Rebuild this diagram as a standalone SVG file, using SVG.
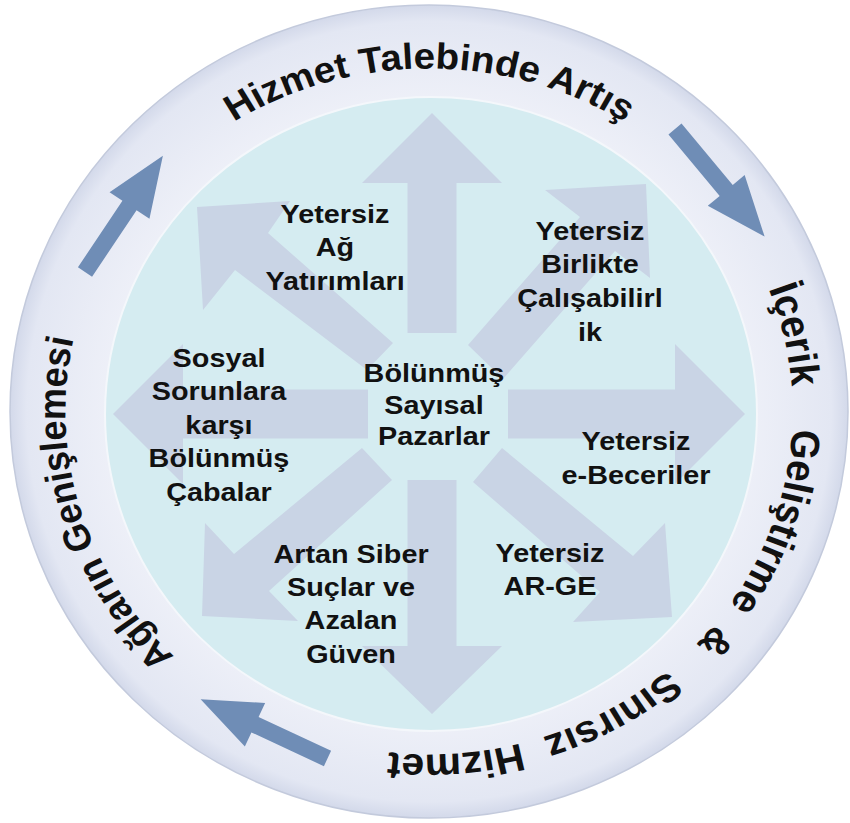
<svg xmlns="http://www.w3.org/2000/svg" xmlns:xlink="http://www.w3.org/1999/xlink" width="850" height="823" viewBox="0 0 850 823">
<defs>
<style>
.lbl{font-family:"Liberation Sans",Arial,sans-serif;font-weight:bold;font-size:25.5px;fill:#111;text-anchor:middle}
.ring{font-family:"Liberation Sans",Arial,sans-serif;font-weight:bold;font-size:36px;fill:#111;text-anchor:middle}
.ringR{font-size:38.5px}
.spoke{fill:#c9d4e5}
.cyc{fill:#6f8db6}
</style>
<radialGradient id="ringGrad" cx="0.5" cy="0.5" r="0.5">
<stop offset="0.76" stop-color="#eef0f8"/>
<stop offset="0.96" stop-color="#e3e7f3"/>
<stop offset="1" stop-color="#d3d9ea"/>
</radialGradient>
<path id="ringPath" d="M0,343 A343,343 0 1,1 0,-343 A343,343 0 1,1 0,343 A343,343 0 1,1 0,-343"/>
<path id="smallArrow" d="M0,-8.5 L80,-8.5 L80,-24 L140,0 L80,24 L80,8.5 L0,8.5 Z"/>
</defs>

<g id="background">
<ellipse cx="429" cy="411.5" rx="419" ry="406.5" fill="url(#ringGrad)" stroke="#c3cadc" stroke-width="1.5"/>
<ellipse cx="431" cy="414" rx="326" ry="317" fill="#d5ecf1" stroke="#f4f7fb" stroke-width="2"/>
</g>

<g id="spokes">
<polygon class="spoke" points="432,113 502,183 456.5,183 456.5,333 407.5,333 407.5,183 362,183"/>
<polygon class="spoke" points="745,414 675,484 675,438.5 508,438.5 508,389.5 675,389.5 675,344"/>
<polygon class="spoke" points="113,414 183,344 183,389.5 368,389.5 368,438.5 183,438.5 183,484"/>
<polygon class="spoke" points="432,714 362,646 407.5,646 407.5,480 456.5,480 456.5,646 502,646"/>
<polygon class="spoke" points="197,207 290,201 268,233 393,343 367,370 235,270 203,310"/>
<polygon class="spoke" points="646,184 650,278 615,251 503,379 468,345 580,217 545,190"/>
<polygon class="spoke" points="202,616 205,523 234,554 362,448 392,480 269,591 298,621"/>
<polygon class="spoke" points="672,617 573,622 600,592 473,482 502,448 633,556 665,523"/>
</g>

<g id="cycle-arrows">
<use xlink:href="#smallArrow" class="cyc" transform="translate(85,272) rotate(-56.2)"/>
<use xlink:href="#smallArrow" class="cyc" transform="translate(675,129) rotate(50.2)"/>
<use xlink:href="#smallArrow" class="cyc" transform="translate(327.5,758.5) rotate(205)"/>
</g>

<g id="ring-labels" transform="translate(429,411.5) scale(1.06,1)">
<g id="ring-top"><text class="ring" style="font-size:36.5px"><textPath xlink:href="#ringPath" startOffset="1077.6">Hizmet Talebinde Artış</textPath></text></g>
<g id="ring-left"><text class="ring"><textPath xlink:href="#ringPath" startOffset="438.8">Ağların Genişlemesi</textPath></text></g>
<g id="ring-right">
<text class="ring ringR"><textPath xlink:href="#ringPath" startOffset="1540.3">İçerik</textPath></text>
<text class="ring ringR"><textPath xlink:href="#ringPath" startOffset="1727.1">Geliştirme</textPath></text>
<text class="ring ringR"><textPath xlink:href="#ringPath" startOffset="1858">&amp;</textPath></text>
<text class="ring ringR"><textPath xlink:href="#ringPath" startOffset="1977">Sınırsız</textPath></text>
<text class="ring ringR"><textPath xlink:href="#ringPath" startOffset="2129.5">Hizmet</textPath></text>
</g>
</g>

<g id="center">
<text class="lbl" transform="translate(434,0) scale(1.13,1)"><tspan x="0" y="382">Bölünmüş</tspan><tspan x="0" y="414">Sayısal</tspan><tspan x="0" y="445">Pazarlar</tspan></text>
</g>
<g id="node-ag">
<text class="lbl" transform="translate(335,0) scale(1.13,1)"><tspan x="0" y="223">Yetersiz</tspan><tspan x="0" y="256">Ağ</tspan><tspan x="0" y="290">Yatırımları</tspan></text>
</g>
<g id="node-birlikte">
<text class="lbl" transform="translate(590,0) scale(1.13,1)"><tspan x="0" y="240">Yetersiz</tspan><tspan x="0" y="273">Birlikte</tspan><tspan x="0" y="307">Çalışabilirl</tspan><tspan x="0" y="341">ik</tspan></text>
</g>
<g id="node-sosyal">
<text class="lbl" transform="translate(219,0) scale(1.13,1)"><tspan x="0" y="367">Sosyal</tspan><tspan x="0" y="400">Sorunlara</tspan><tspan x="0" y="434">karşı</tspan><tspan x="0" y="467">Bölünmüş</tspan><tspan x="0" y="501">Çabalar</tspan></text>
</g>
<g id="node-ebeceri">
<text class="lbl" transform="translate(636,0) scale(1.13,1)"><tspan x="0" y="450">Yetersiz</tspan><tspan x="0" y="484">e-Beceriler</tspan></text>
</g>
<g id="node-arge">
<text class="lbl" transform="translate(550,0) scale(1.13,1)"><tspan x="0" y="562">Yetersiz</tspan><tspan x="0" y="595">AR-GE</tspan></text>
</g>
<g id="node-siber">
<text class="lbl" transform="translate(351,0) scale(1.13,1)"><tspan x="0" y="563">Artan Siber</tspan><tspan x="0" y="596">Suçlar ve</tspan><tspan x="0" y="629">Azalan</tspan><tspan x="0" y="663">Güven</tspan></text>
</g>
</svg>
